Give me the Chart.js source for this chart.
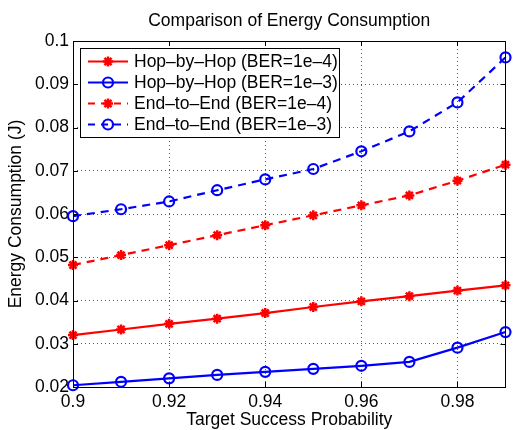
<!DOCTYPE html>
<html>
<head>
<meta charset="utf-8">
<script src="https://cdn.jsdelivr.net/npm/chart.js@4.4.0/dist/chart.umd.min.js"></script>
<style>
  html, body { margin: 0; padding: 0; background: #fff; }
  #wrap { width: 513px; height: 430px; }
</style>
</head>
<body>
<div id="wrap"><canvas id="c" width="513" height="430"></canvas></div>
<script>
// ---- data ----
const chartTitle = "Comparison of Energy Consumption";
const xAxisTitle = "Target Success Probability";
const yAxisTitle = "Energy Consumption (J)";
const xValues = [0.90, 0.91, 0.92, 0.93, 0.94, 0.95, 0.96, 0.97, 0.98, 0.99];
const xTicks = [0.90, 0.92, 0.94, 0.96, 0.98];
const yTicks = [0.02, 0.03, 0.04, 0.05, 0.06, 0.07, 0.08, 0.09, 0.10];
const seriesLabels = [
  "Hop–by–Hop (BER=1e–4)",
  "Hop–by–Hop (BER=1e–3)",
  "End–to–End (BER=1e–4)",
  "End–to–End (BER=1e–3)"
];
const hopBer4 = [0.0320, 0.0333, 0.0346, 0.0358, 0.0371, 0.0385, 0.0398, 0.0410, 0.0423, 0.0435];
const hopBer3 = [0.0204, 0.0212, 0.0220, 0.0228, 0.0235, 0.0242, 0.0249, 0.0258, 0.0291, 0.0327];
const e2eBer4 = [0.0482, 0.0505, 0.0528, 0.0551, 0.0574, 0.0597, 0.0620, 0.0643, 0.0677, 0.0714];
const e2eBer3 = [0.0595, 0.0611, 0.0629, 0.0655, 0.0680, 0.0704, 0.0745, 0.0791, 0.0858, 0.0962];

const FONT = "'Liberation Sans', Arial, Helvetica, sans-serif";
const FS = 17.5;
const toPts = (ys) => xValues.map((x, i) => ({ x: x, y: ys[i] }));

function mkDataset(label, ys, color, style, dashed) {
  return {
    label: label,
    data: toPts(ys),
    borderColor: color,
    backgroundColor: color,
    borderWidth: 2.2,
    borderDash: dashed ? [8, 6] : [],
    pointStyle: style,
    pointRadius: 5,
    pointHoverRadius: 5,
    pointBorderWidth: style === 'star' ? 2.5 : 2.2,
    pointBorderColor: color,
    pointBackgroundColor: style === 'star' ? color : 'rgba(0,0,0,0)',
    tension: 0,
    clip: false
  };
}

const datasets = [
  mkDataset(seriesLabels[0], hopBer4, '#ff0000', 'star', false),
  mkDataset(seriesLabels[1], hopBer3, '#0000ff', 'circle', false),
  mkDataset(seriesLabels[2], e2eBer4, '#ff0000', 'star', true),
  mkDataset(seriesLabels[3], e2eBer3, '#0000ff', 'circle', true)
];

const matlabPlugin = {
  id: 'matlabDecor',
  afterDraw(chart) {
    const ctx = chart.ctx;
    const a = chart.chartArea;
    const xs = chart.scales.x, ys = chart.scales.y;
    ctx.save();
    // inward tick marks
    ctx.strokeStyle = '#000';
    ctx.lineWidth = 1;
    ctx.setLineDash([]);
    ctx.beginPath();
    xTicks.forEach(v => {
      const px = Math.round(xs.getPixelForValue(v)) + 0.5;
      ctx.moveTo(px, a.bottom); ctx.lineTo(px, a.bottom - 5);
      ctx.moveTo(px, a.top); ctx.lineTo(px, a.top + 5);
    });
    yTicks.forEach(v => {
      const py = Math.round(ys.getPixelForValue(v)) + 0.5;
      ctx.moveTo(a.left, py); ctx.lineTo(a.left + 5, py);
      ctx.moveTo(a.right, py); ctx.lineTo(a.right - 5, py);
    });
    ctx.stroke();
    // axes box
    ctx.strokeRect(Math.round(a.left) + 0.5, Math.round(a.top) + 0.5,
                   Math.round(a.right - a.left) - 1, Math.round(a.bottom - a.top));
    // title
    ctx.fillStyle = '#000';
    ctx.font = FS + 'px ' + FONT;
    ctx.textAlign = 'center';
    ctx.textBaseline = 'middle';
    ctx.fillText(chartTitle, (a.left + a.right) / 2, 21);

    // legend inside the axes
    const lx = 80, ly = 48, lw = 259, lh = 89;
    ctx.fillStyle = '#fff';
    ctx.fillRect(lx, ly, lw, lh);
    ctx.strokeStyle = '#000';
    ctx.lineWidth = 1;
    ctx.strokeRect(lx + 0.5, ly + 0.5, lw, lh);
    const rowY = [61.5, 82.5, 103.5, 124.5];
    chart.data.datasets.forEach((ds, i) => {
      const y = rowY[i];
      ctx.save();
      ctx.strokeStyle = ds.borderColor;
      ctx.lineWidth = ds.borderWidth;
      ctx.setLineDash(ds.borderDash.length ? [7, 6] : []);
      ctx.beginPath();
      ctx.moveTo(88, y); ctx.lineTo(128, y);
      ctx.stroke();
      ctx.setLineDash([]);
      ctx.fillStyle = ds.pointBackgroundColor;
      ctx.strokeStyle = ds.pointBorderColor;
      ctx.lineWidth = ds.pointBorderWidth;
      Chart.helpers.drawPoint(ctx, {
        pointStyle: ds.pointStyle, radius: ds.pointRadius,
        borderWidth: ds.pointBorderWidth, rotation: 0
      }, 108, y);
      ctx.restore();
      ctx.fillStyle = '#000';
      ctx.font = FS + 'px ' + FONT;
      ctx.textAlign = 'left';
      ctx.textBaseline = 'middle';
      ctx.fillText(ds.label, 134, y + 1);
    });
    ctx.restore();
  }
};

new Chart(document.getElementById('c'), {
  type: 'line',
  data: { datasets: datasets },
  options: {
    responsive: false,
    animation: false,
    events: [],
    layout: { padding: { top: 41, right: 1, left: 0, bottom: 0 } },
    plugins: {
      legend: { display: false },
      title: { display: false },
      tooltip: { enabled: false }
    },
    scales: {
      x: {
        type: 'linear',
        min: 0.9, max: 0.99,
        afterBuildTicks: (s) => { s.ticks = xTicks.map(v => ({ value: v })); },
        afterFit: (s) => { s.height = 43; },
        border: { display: false, dash: [1, 3] },
        grid: { color: 'rgba(0,0,0,0.65)', lineWidth: 1, drawTicks: false },
        ticks: {
          color: '#000', padding: 5, maxRotation: 0, autoSkip: false,
          font: { size: FS, family: FONT },
          callback: (v) => String(+(+v).toFixed(2))
        },
        title: {
          display: true, text: xAxisTitle, color: '#000',
          font: { size: FS, family: FONT, lineHeight: 1.1 },
          padding: { top: 0, bottom: 0 }
        }
      },
      y: {
        type: 'linear',
        min: 0.02, max: 0.1,
        afterBuildTicks: (s) => { s.ticks = yTicks.map(v => ({ value: v })); },
        afterFit: (s) => { s.width = 73; },
        border: { display: false, dash: [1, 3] },
        grid: { color: 'rgba(0,0,0,0.65)', lineWidth: 1, drawTicks: false },
        ticks: {
          color: '#000', padding: 4, autoSkip: false,
          font: { size: FS, family: FONT },
          callback: (v) => String(+(+v).toFixed(2))
        },
        title: {
          display: true, text: yAxisTitle, color: '#000',
          font: { size: FS, family: FONT, lineHeight: 1.2 },
          padding: { top: 6, bottom: 0 }
        }
      }
    }
  },
  plugins: [matlabPlugin]
});
</script>
</body>
</html>
